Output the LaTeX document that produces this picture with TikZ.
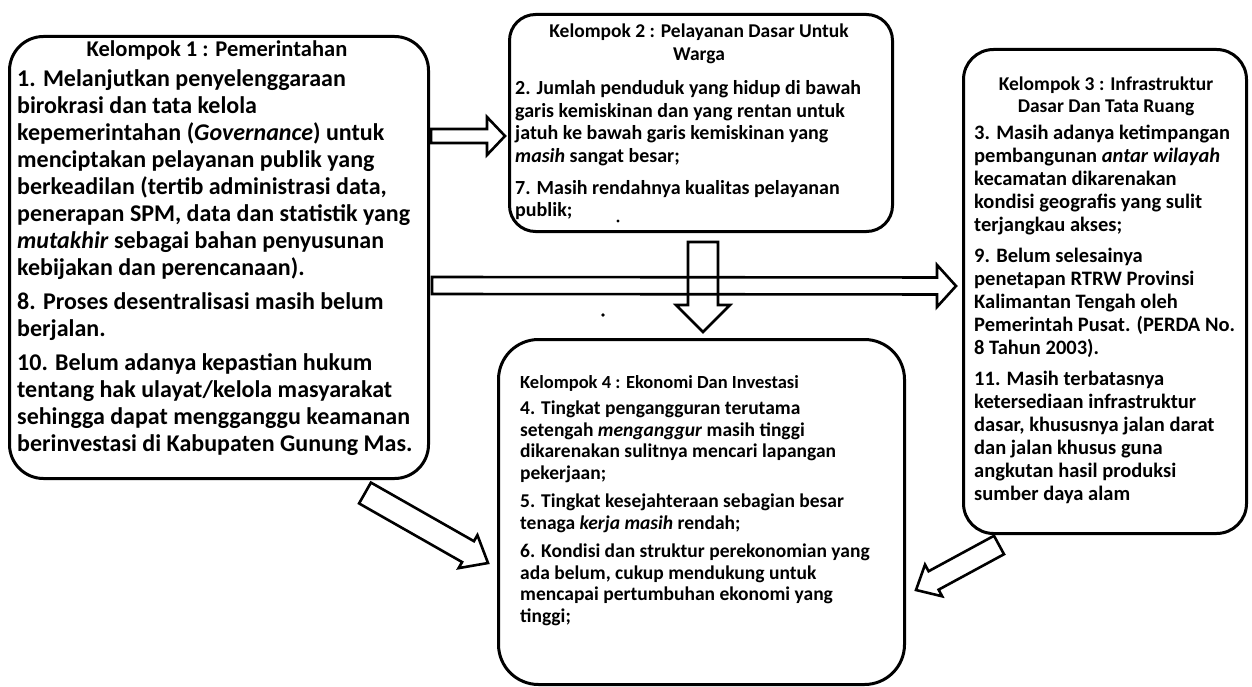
\documentclass[tikz,border=0pt]{standalone}
\usepackage{fontspec}
\setmainfont{Carlito}
\usetikzlibrary{calc}
\tikzset{
  box/.style={draw, line width=3pt, rounded corners=#1, inner sep=0pt, anchor=north west},
  box/.default=30pt,
  ttl/.style={inner sep=0pt, align=center, font=#1},
  body/.style={inner sep=0pt, align=left, anchor=north west, font=#1},
  arr/.style={draw, line width=2.6pt, line join=miter},
}
\newcommand\blockarr[5]{%
  \coordinate (hb) at ($(#2)!#5!(#1)$);
  \draw[arr] ($(#1)!#3!90:(#2)$) -- ($(hb)!#3!90:(#2)$) -- ($(hb)!#4!90:(#2)$) -- (#2)
     -- ($(hb)!#4!-90:(#2)$) -- ($(hb)!#3!-90:(#2)$) -- ($(#1)!#3!-90:(#2)$) -- cycle;}
\begin{document}
\begin{tikzpicture}[x=1pt,y=-1pt]
\useasboundingbox (0,0) rectangle (1252,687);
% boxes
\node[box=34pt, minimum width=419pt, minimum height=442pt] (b1) at (8,35) {};
\node[box=26pt, minimum width=383pt, minimum height=217pt] (b2) at (508,13) {};
\node[box=30pt, minimum width=283pt, minimum height=484pt] (b3) at (962,48) {};
\node[box=40pt, minimum width=406pt, minimum height=345pt] (b4) at (497,338) {};
% box 1 text
\node[ttl=\fontsize{22.5}{26}\selectfont\bfseries] (t1) at (217,50) {Kelompok 1 : Pemerintahan};
\node[body=\fontsize{24}{27}\selectfont\bfseries] (t1b) at (17,69) {%
1. Melanjutkan penyelenggaraan\\
birokrasi dan tata kelola\\
kepemerintahan (\textit{Governance}) untuk\\
menciptakan pelayanan publik yang\\
berkeadilan (tertib administrasi data,\\
penerapan SPM, data dan statistik yang\\
\textit{mutakhir} sebagai bahan penyusunan\\
kebijakan dan perencanaan).\\[7pt]
8. Proses desentralisasi masih belum\\
berjalan.\\[7pt]
10. Belum adanya kepastian hukum\\
tentang hak ulayat/kelola masyarakat\\
sehingga dapat mengganggu keamanan\\
berinvestasi di Kabupaten Gunung Mas.};
% box 2 text
\node[ttl=\fontsize{19.5}{23}\selectfont\bfseries] (t2) at (699,43.5) {Kelompok 2 : Pelayanan Dasar Untuk\\Warga};
\node[body=\fontsize{20}{22.5}\selectfont\bfseries] (t2b) at (515,80.5) {%
2. Jumlah penduduk yang hidup di bawah\\
garis kemiskinan dan yang rentan untuk\\
jatuh ke bawah garis kemiskinan yang\\
\textit{masih} sangat besar;\\[9.5pt]
7. Masih rendahnya kualitas pelayanan\\
publik;};
% box 3 text
\node[ttl=\fontsize{19.5}{22}\selectfont\bfseries] (t3) at (1106,96) {Kelompok 3 : Infrastruktur\\Dasar Dan Tata Ruang};
\node[body=\fontsize{20.5}{23}\selectfont\bfseries] (t3b) at (974,125) {%
3. Masih adanya ketimpangan\\
pembangunan \textit{antar wilayah}\\
kecamatan dikarenakan\\
kondisi geografis yang sulit\\
terjangkau akses;\\[8pt]
9. Belum selesainya\\
penetapan RTRW Provinsi\\
Kalimantan Tengah oleh\\
Pemerintah Pusat. (PERDA No.\\
8 Tahun 2003).\\[8pt]
11. Masih terbatasnya\\
ketersediaan infrastruktur\\
dasar, khususnya jalan darat\\
dan jalan khusus guna\\
angkutan hasil produksi\\
sumber daya alam};
% box 4 text
\node[body=\fontsize{18.5}{21}\selectfont\bfseries, anchor=west] (t4) at (520,383) {Kelompok 4 : Ekonomi Dan Investasi};
\node[body=\fontsize{19.5}{21.5}\selectfont\bfseries] (t4b) at (520,401) {%
4. Tingkat pengangguran terutama\\
setengah \textit{menganggur} masih tinggi\\
dikarenakan sulitnya mencari lapangan\\
pekerjaan;\\[7pt]
5. Tingkat kesejahteraan sebagian besar\\
tenaga \textit{kerja masih} rendah;\\[7pt]
6. Kondisi dan struktur perekonomian yang\\
ada belum, cukup mendukung untuk\\
mencapai pertumbuhan ekonomi yang\\
tinggi;};
% specks
\fill (618,221) circle (1.6pt);
\fill (603,315) circle (1.8pt);
% arrows
\coordinate (a12t) at (431,136); \coordinate (a12h) at (505,136);
\blockarr{a12t}{a12h}{7pt}{19pt}{18pt}
\coordinate (a13t) at (432,285.5); \coordinate (a13h) at (956,286);
\blockarr{a13t}{a13h}{8.5pt}{21pt}{19pt}
\coordinate (a24t) at (703,242); \coordinate (a24h) at (703,332);
\blockarr{a24t}{a24h}{15pt}{27pt}{27pt}
\coordinate (a14t) at (365,493); \coordinate (a14h) at (488,563);
\blockarr{a14t}{a14h}{12pt}{19pt}{23pt}
\coordinate (a34t) at (999,545); \coordinate (a34h) at (916,590);
\blockarr{a34t}{a34h}{10.5pt}{18pt}{20pt}
\end{tikzpicture}
\end{document}
